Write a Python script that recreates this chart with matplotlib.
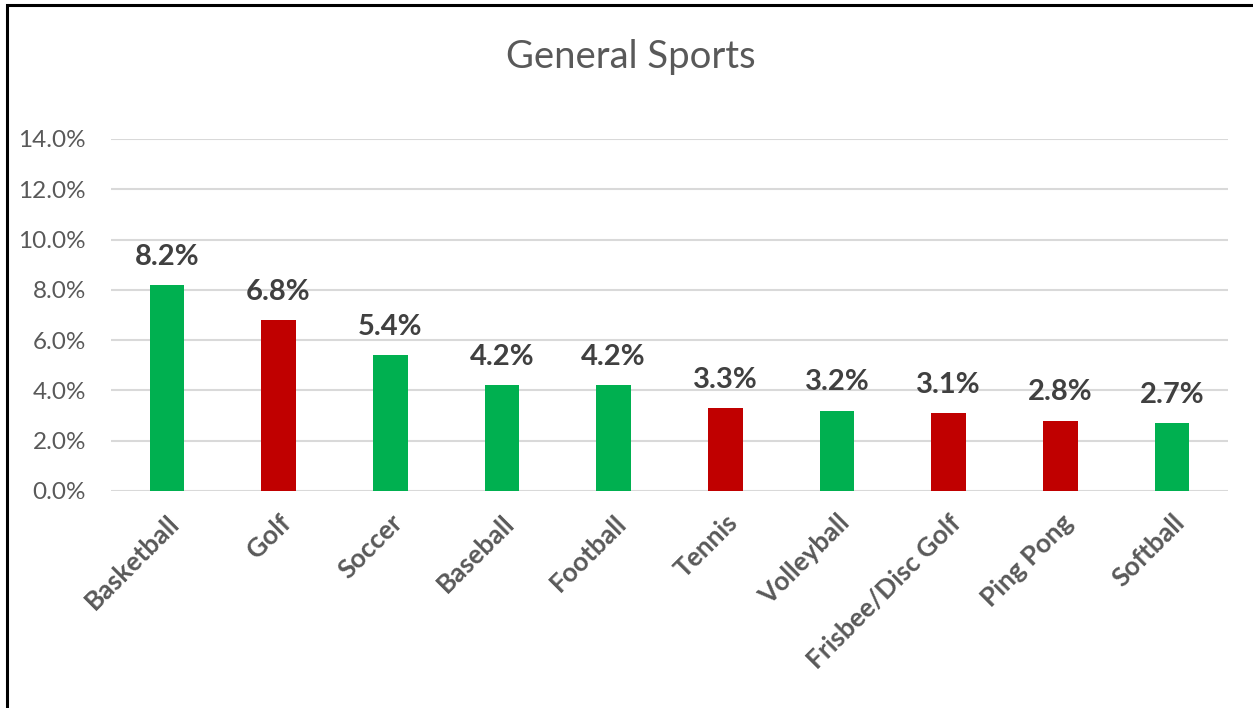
import matplotlib
matplotlib.use("Agg")
import matplotlib.pyplot as plt
from matplotlib.ticker import FuncFormatter
from matplotlib.patches import Rectangle

sports = ["Basketball", "Golf", "Soccer", "Baseball", "Football", "Tennis",
          "Volleyball", "Frisbee/Disc Golf", "Ping Pong", "Softball"]
shares = [8.2, 6.8, 5.4, 4.2, 4.2, 3.3, 3.2, 3.1, 2.8, 2.7]
bar_colors = ["#00B050", "#C00000", "#00B050", "#00B050", "#00B050",
              "#C00000", "#00B050", "#C00000", "#C00000", "#00B050"]

plt.rcParams["font.family"] = ["Lato", "DejaVu Sans"]

fig = plt.figure(figsize=(12.53, 7.08), dpi=100)
ax = fig.add_axes([0.0886, 0.3065, 0.8914, 0.4972])

x = range(len(sports))
bars = ax.bar(x, shares, width=0.31, color=bar_colors, zorder=3)

for rect, v in zip(bars, shares):
    ax.annotate(f"{v:.1f}%", (rect.get_x() + rect.get_width() / 2, v),
                xytext=(0, 11), textcoords="offset points",
                ha="center", va="bottom", fontsize=21, fontweight="bold",
                color="#404040")

ax.set_xlim(-0.5, len(sports) - 0.5)
ax.set_ylim(0, 14)
ax.set_yticks(range(0, 15, 2))
ax.yaxis.set_major_formatter(FuncFormatter(lambda v, _: f"{v:.1f}%"))
ax.grid(axis="y", color="#D9D9D9", linewidth=1.5, zorder=0)
for s in ax.spines.values():
    s.set_visible(False)
ax.tick_params(axis="both", length=0, colors="#595959")
ax.tick_params(axis="y", labelsize=17.5, pad=18)

ax.set_xticks(list(x))
ax.set_xticklabels(sports, rotation=45, ha="right", rotation_mode="anchor",
                   fontsize=19, fontweight="bold", color="#595959")
ax.tick_params(axis="x", pad=14)

fig.text(0.5035, 0.919, "General Sports", ha="center", va="center",
         fontsize=27.5, color="#595959")

# outer frame of the chart area (top and left edges)
fig.add_artist(Rectangle((0.0056, -0.05), 1.2, 1.043, transform=fig.transFigure,
                         fill=False, edgecolor="black", linewidth=2.2))

fig.savefig("out.png", dpi=100)
